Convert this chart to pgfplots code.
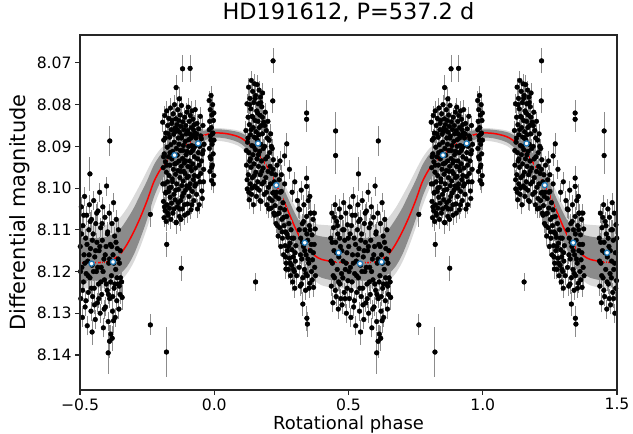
\documentclass[border=0pt]{standalone}
\usepackage{fontspec}
\setmainfont{DejaVu Sans}
\usepackage{pgfplots}
\pgfplotsset{compat=1.18}
\usepackage{pgfplotstable}
\usepgfplotslibrary{fillbetween}

\definecolor{mplblue}{RGB}{31,119,180}
\definecolor{ebgray}{gray}{0.55}

% fixed error bar (0.0024 mag), drawn as a mark under all the dots
\pgfdeclareplotmark{vbar}{%
  \pgfpathmoveto{\pgfqpoint{0pt}{-9.5bp}}%
  \pgfpathlineto{\pgfqpoint{0pt}{9.5bp}}%
  \pgfusepathqstroke}

% photometry, one rotation (phase -0.5 .. 0.5), plotted twice
\pgfplotstableread{
p m
-0.192 8.0842
-0.190 8.0951
-0.189 8.1032
-0.188 8.0885
-0.187 8.1071
-0.186 8.0918
-0.185 8.0990
-0.184 8.0826
-0.183 8.1054
-0.182 8.0937
-0.181 8.1012
-0.180 8.0868
-0.179 8.1080
-0.178 8.0962
-0.177 8.0815
-0.176 8.1040
-0.175 8.0902
-0.174 8.0985
-0.173 8.0850
-0.172 8.1065
-0.171 8.0925
-0.170 8.1008
-0.169 8.0833
-0.168 8.0970
-0.167 8.1048
-0.166 8.0878
-0.165 8.0945
-0.164 8.1022
-0.163 8.0808
-0.162 8.0896
-0.161 8.0998
-0.160 8.0860
-0.159 8.1036
-0.158 8.0930
-0.157 8.0838
-0.156 8.0978
-0.155 8.0912
-0.154 8.1060
-0.153 8.0822
-0.152 8.0955
-0.151 8.0871
-0.150 8.1015
-0.149 8.0890
-0.148 8.0800
-0.147 8.0942
-0.146 8.1028
-0.145 8.0856
-0.144 8.0967
-0.143 8.0834
-0.142 8.1082
-0.141 8.0905
-0.140 8.0990
-0.139 8.0848
-0.138 8.0921
-0.137 8.1045
-0.136 8.0812
-0.135 8.0958
-0.134 8.0880
-0.133 8.1003
-0.132 8.0838
-0.131 8.0935
-0.130 8.1068
-0.129 8.0866
-0.128 8.0975
-0.127 8.0825
-0.126 8.0910
-0.125 8.1030
-0.124 8.0852
-0.123 8.0948
-0.122 8.0802
-0.121 8.0994
-0.120 8.0875
-0.119 8.1050
-0.118 8.0929
-0.117 8.0841
-0.116 8.0983
-0.115 8.0898
-0.114 8.1012
-0.113 8.0860
-0.112 8.0940
-0.111 8.1040
-0.110 8.0830
-0.109 8.0965
-0.108 8.0888
-0.107 8.1005
-0.106 8.0850
-0.105 8.0920
-0.103 8.0995
-0.102 8.0818
-0.101 8.0912
-0.100 8.1038
-0.099 8.0862
-0.098 8.0948
-0.097 8.0806
-0.096 8.0972
-0.095 8.0884
-0.094 8.1020
-0.093 8.0840
-0.092 8.0935
-0.091 8.0870
-0.090 8.0990
-0.089 8.0826
-0.088 8.0915
-0.087 8.1052
-0.086 8.0855
-0.085 8.0958
-0.084 8.0898
-0.083 8.0815
-0.082 8.1008
-0.081 8.0875
-0.080 8.0942
-0.079 8.0835
-0.078 8.0980
-0.077 8.0905
-0.076 8.1030
-0.075 8.0848
-0.074 8.0925
-0.073 8.0868
-0.072 8.0995
-0.071 8.0812
-0.070 8.0952
-0.068 8.0880
-0.066 8.1015
-0.064 8.0845
-0.062 8.0930
-0.060 8.0972
-0.058 8.0858
-0.056 8.1040
-0.054 8.0900
-0.052 8.0828
-0.050 8.0965
-0.048 8.0882
-0.046 8.1007
-0.044 8.0918
-0.042 8.0850
-0.040 8.0985
-0.038 8.0895
-0.019 8.0790
-0.018 8.0905
-0.017 8.0840
-0.016 8.0960
-0.015 8.0812
-0.014 8.0875
-0.013 8.0930
-0.012 8.0778
-0.011 8.0855
-0.010 8.0982
-0.009 8.0825
-0.008 8.0895
-0.007 8.0945
-0.006 8.0800
-0.005 8.0868
-0.004 8.0918
-0.003 8.0838
-0.002 8.0970
-0.001 8.0885
0.118 8.0862
0.120 8.0945
0.122 8.0798
0.123 8.1002
0.124 8.0890
0.126 8.0830
0.127 8.0968
0.128 8.0758
0.129 8.0915
0.130 8.1028
0.131 8.0848
0.132 8.0935
0.133 8.0785
0.134 8.0990
0.135 8.0872
0.136 8.0810
0.137 8.0950
0.138 8.0742
0.139 8.1015
0.140 8.0898
0.141 8.0828
0.142 8.0975
0.143 8.0768
0.144 8.0920
0.145 8.0855
0.146 8.1040
0.147 8.0795
0.148 8.0942
0.149 8.0878
0.150 8.0750
0.151 8.0995
0.152 8.0838
0.153 8.0908
0.154 8.0778
0.155 8.0962
0.156 8.0865
0.157 8.1020
0.158 8.0815
0.159 8.0930
0.160 8.0752
0.161 8.0885
0.162 8.0985
0.163 8.0840
0.164 8.0798
0.165 8.0948
0.166 8.0872
0.167 8.0765
0.168 8.1005
0.169 8.0912
0.170 8.0825
0.171 8.0968
0.172 8.0782
0.173 8.0895
0.174 8.1032
0.175 8.0850
0.176 8.0935
0.177 8.0805
0.178 8.0990
0.179 8.0870
0.180 8.0772
0.182 8.0952
0.184 8.0842
0.186 8.1015
0.188 8.0900
0.190 8.0818
0.192 8.0975
0.194 8.0862
0.196 8.1040
0.198 8.0925
0.200 8.0840
0.202 8.0998
0.204 8.0885
0.206 8.1025
0.208 8.0948
0.210 8.0870
0.212 8.1048
0.214 8.0965
0.216 8.0905
0.218 8.1012
0.220 8.0932
0.222 8.1060
0.224 8.0985
0.226 8.1042
0.228 8.0968
0.230 8.1085
0.232 8.1010
0.234 8.0945
0.236 8.1062
0.238 8.1115
0.240 8.1025
0.242 8.0980
0.244 8.1095
0.246 8.1048
0.248 8.1140
0.250 8.1008
0.252 8.1075
0.254 8.1120
0.256 8.1035
0.258 8.1160
0.260 8.1090
0.262 8.1052
0.264 8.1138
0.266 8.1105
0.268 8.1180
0.270 8.1068
0.272 8.1150
0.274 8.1118
0.276 8.1195
0.278 8.1085
0.280 8.1168
0.282 8.1132
0.284 8.1210
0.286 8.1100
0.288 8.1185
0.290 8.1148
0.292 8.1225
0.294 8.1165
0.296 8.1120
0.298 8.1200
0.300 8.1240
0.302 8.1175
0.304 8.1138
0.245 8.0935
0.250 8.0968
0.262 8.0990
0.280 8.0955
0.290 8.1010
0.300 8.0985
0.310 8.1030
0.315 8.1050
0.316 8.1190
0.318 8.1052
0.320 8.1235
0.322 8.1120
0.324 8.1005
0.326 8.1170
0.328 8.1085
0.330 8.1215
0.332 8.1140
0.334 8.1040
0.336 8.1195
0.338 8.1100
0.340 8.1245
0.342 8.1160
0.344 8.1068
0.346 8.1210
0.348 8.1125
0.350 8.1030
0.352 8.1180
0.354 8.1090
0.356 8.1228
0.358 8.1150
0.360 8.1060
0.362 8.1200
0.364 8.1112
0.366 8.1172
0.368 8.1075
0.370 8.1238
0.372 8.1135
0.374 8.1190
0.376 8.1098
0.434 8.1120
0.436 8.1235
0.438 8.1060
0.440 8.1180
0.442 8.1275
0.444 8.1095
0.446 8.1150
0.448 8.1215
0.450 8.1040
0.452 8.1130
0.454 8.1260
0.456 8.1080
0.458 8.1195
0.460 8.1110
0.462 8.1290
0.464 8.1165
0.466 8.1050
0.468 8.1230
0.470 8.1140
0.472 8.1070
0.474 8.1205
0.476 8.1280
0.478 8.1100
0.480 8.1175
0.482 8.1035
0.484 8.1250
0.486 8.1125
0.488 8.1195
0.490 8.1060
0.492 8.1300
0.494 8.1155
0.496 8.1088
0.498 8.1222
-0.499 8.1140
-0.497 8.1265
-0.495 8.1045
-0.493 8.1190
-0.491 8.1310
-0.489 8.1090
-0.487 8.1225
-0.485 8.1160
-0.483 8.1020
-0.481 8.1285
-0.479 8.1120
-0.477 8.1205
-0.475 8.1065
-0.473 8.1330
-0.471 8.1175
-0.469 8.1250
-0.467 8.1100
-0.465 8.1040
-0.463 8.1215
-0.461 8.1145
-0.459 8.1295
-0.457 8.1075
-0.455 8.1185
-0.453 8.1260
-0.451 8.1110
-0.449 8.1030
-0.447 8.1240
-0.445 8.1165
-0.443 8.1315
-0.441 8.1085
-0.439 8.1200
-0.437 8.1130
-0.435 8.1275
-0.433 8.1055
-0.431 8.1230
-0.429 8.1150
-0.427 8.1010
-0.425 8.1300
-0.423 8.1095
-0.421 8.1190
-0.419 8.1255
-0.417 8.1125
-0.415 8.1045
-0.413 8.1335
-0.411 8.1170
-0.409 8.1220
-0.407 8.1070
-0.405 8.1285
-0.403 8.1140
-0.401 8.0995
-0.399 8.1245
-0.397 8.1105
-0.395 8.1320
-0.393 8.1180
-0.391 8.1060
-0.389 8.1265
-0.387 8.1135
-0.385 8.1350
-0.383 8.1210
-0.381 8.1085
-0.379 8.1295
-0.377 8.1160
-0.375 8.1035
-0.373 8.1240
-0.371 8.1115
-0.369 8.1310
-0.367 8.1195
-0.365 8.1075
-0.363 8.1270
-0.361 8.1145
-0.359 8.1230
-0.357 8.1100
-0.355 8.1290
-0.353 8.1180
-0.351 8.1255
-0.349 8.1215
-0.1915 8.0990
-0.1885 8.0925
-0.1855 8.1045
-0.1825 8.0880
-0.1795 8.1010
-0.1765 8.0945
-0.1735 8.1060
-0.1705 8.0870
-0.1675 8.1000
-0.1645 8.0915
-0.1615 8.1075
-0.1585 8.0845
-0.1555 8.0985
-0.1525 8.0920
-0.1495 8.1050
-0.1465 8.0865
-0.1435 8.1005
-0.1405 8.0940
-0.1375 8.0860
-0.1345 8.1035
-0.1315 8.0895
-0.1285 8.1050
-0.1255 8.0960
-0.1225 8.0880
-0.1195 8.1020
-0.1165 8.0910
-0.1135 8.0960
-0.1105 8.1065
-0.1075 8.0935
-0.1045 8.0870
-0.1015 8.0975
-0.0985 8.1060
-0.0955 8.0900
-0.0925 8.1000
-0.0895 8.0950
-0.0865 8.0880
-0.0835 8.1040
-0.0805 8.0910
-0.0775 8.0860
-0.0745 8.0970
-0.0715 8.0900
-0.0685 8.0990
-0.0655 8.0870
-0.0625 8.1050
-0.0595 8.0915
-0.0565 8.0945
-0.0535 8.0985
-0.0505 8.0875
-0.0475 8.0935
-0.0445 8.1025
-0.0415 8.0910
-0.0395 8.0955
-0.0185 8.0860
-0.0155 8.0925
-0.0125 8.0885
-0.0095 8.0950
-0.0065 8.0870
-0.0035 8.0990
-0.0015 8.0820
0.1195 8.0910
0.1225 8.0980
0.1255 8.0880
0.1285 8.1010
0.1315 8.0800
0.1345 8.0930
0.1375 8.0860
0.1405 8.1000
0.1435 8.0830
0.1465 8.0900
0.1495 8.0970
0.1525 8.0785
0.1555 8.0880
0.1585 8.1000
0.1615 8.0820
0.1645 8.0920
0.1675 8.0855
0.1705 8.1030
0.1735 8.0795
0.1765 8.0960
0.1795 8.0830
0.1825 8.0905
0.1855 8.0985
0.1885 8.0850
0.1915 8.0930
0.1945 8.1010
0.1975 8.0880
0.2005 8.0960
0.2035 8.1050
0.2065 8.0915
0.2095 8.0990
0.2125 8.0900
0.2155 8.1030
0.2185 8.0955
0.2215 8.1010
0.2245 8.1065
0.229 8.1020
0.235 8.1090
0.241 8.1060
0.247 8.1010
0.253 8.1105
0.259 8.1070
0.265 8.1165
0.271 8.1110
0.277 8.1140
0.283 8.1180
0.289 8.1120
0.295 8.1195
0.301 8.1155
0.307 8.1210
0.317 8.1100
0.321 8.1160
0.325 8.1230
0.329 8.1130
0.333 8.1080
0.337 8.1150
0.341 8.1205
0.345 8.1110
0.349 8.1170
0.353 8.1240
0.357 8.1100
0.361 8.1135
0.365 8.1220
0.369 8.1155
0.373 8.1060
0.377 8.1210
0.435 8.1175
0.439 8.1130
0.443 8.1210
0.447 8.1070
0.451 8.1245
0.455 8.1155
0.459 8.1090
0.463 8.1225
0.467 8.1120
0.471 8.1265
0.475 8.1150
0.479 8.1215
0.483 8.1100
0.487 8.1265
0.491 8.1180
0.495 8.1240
0.499 8.1120
-0.498 8.1200
-0.494 8.1110
-0.490 8.1245
-0.486 8.1065
-0.482 8.1180
-0.478 8.1270
-0.474 8.1135
-0.470 8.1210
-0.466 8.1160
-0.462 8.1080
-0.458 8.1240
-0.454 8.1125
-0.450 8.1200
-0.446 8.1280
-0.442 8.1150
-0.438 8.1060
-0.434 8.1190
-0.430 8.1265
-0.426 8.1140
-0.422 8.1225
-0.418 8.1085
-0.414 8.1200
-0.410 8.1290
-0.406 8.1160
-0.402 8.1230
-0.398 8.1110
-0.394 8.1255
-0.390 8.1170
-0.386 8.1225
-0.382 8.1140
-0.378 8.1260
-0.374 8.1180
-0.370 8.1230
-0.366 8.1130
-0.362 8.1215
-0.358 8.1170
-0.354 8.1235
-0.350 8.1150
}\pts

% isolated points with their own errors
\pgfplotstableread{
p m e
-0.142 8.0759 0.0030
-0.130 8.0786 0.0028
-0.118 8.0714 0.0032
-0.090 8.0713 0.0032
0.219 8.0695 0.0030
0.218 8.0791 0.0030
-0.177 8.1135 0.0030
-0.142 8.1083 0.0028
-0.124 8.1075 0.0028
-0.123 8.1192 0.0030
-0.178 8.1393 0.0060
-0.238 8.1063 0.0030
-0.238 8.1328 0.0025
0.154 8.1225 0.0022
0.267 8.1194 0.0025
0.270 8.0894 0.0025
0.262 8.0923 0.0025
0.344 8.0820 0.0030
0.344 8.0835 0.0030
0.344 8.0976 0.0030
0.344 8.0996 0.0030
0.356 8.1020 0.0030
0.358 8.1060 0.0028
0.330 8.1278 0.0028
0.345 8.1312 0.0030
0.347 8.1326 0.0030
0.452 8.0863 0.0045
0.452 8.0922 0.0045
-0.463 8.0966 0.0040
-0.389 8.0887 0.0035
-0.395 8.1395 0.0050
-0.390 8.1367 0.0040
-0.380 8.1360 0.0030
-0.455 8.1345 0.0030
-0.375 8.1318 0.0030
-0.345 8.1225 0.0030
-0.343 8.1262 0.0030
}\outl

% binned means
\pgfplotstableread{
p m
-0.457 8.1181
-0.377 8.1177
-0.148 8.0921
-0.060 8.0893
0.163 8.0893
0.231 8.0993
0.337 8.1131
0.463 8.1155
}\bins

% best model (r) and spread of sampled models (outer/inner envelopes)
\pgfplotstableread{
p r ou ol iu il
-0.500 8.1179 8.1090 8.1240 8.1120 8.1222
-0.450 8.1179 8.1090 8.1240 8.1120 8.1222
-0.400 8.1177 8.1088 8.1238 8.1117 8.1220
-0.375 8.1170 8.1082 8.1232 8.1110 8.1215
-0.350 8.1158 8.1070 8.1222 8.1098 8.1205
-0.325 8.1135 8.1048 8.1205 8.1075 8.1188
-0.300 8.1105 8.1020 8.1178 8.1048 8.1160
-0.275 8.1070 8.0990 8.1140 8.1015 8.1120
-0.250 8.1030 8.0958 8.1095 8.0982 8.1075
-0.225 8.0985 8.0928 8.1045 8.0945 8.1022
-0.200 8.0955 8.0906 8.1004 8.0920 8.0985
-0.175 8.0935 8.0892 8.0974 8.0905 8.0960
-0.150 8.0920 8.0882 8.0952 8.0893 8.0940
-0.100 8.0894 8.0868 8.0917 8.0876 8.0908
-0.050 8.0876 8.0860 8.0896 8.0864 8.0889
0.000 8.0868 8.0856 8.0887 8.0859 8.0879
0.050 8.0870 8.0858 8.0890 8.0861 8.0882
0.100 8.0880 8.0864 8.0903 8.0868 8.0894
0.150 8.0907 8.0882 8.0940 8.0889 8.0926
0.200 8.0952 8.0918 8.0993 8.0930 8.0978
0.250 8.1018 8.0975 8.1068 8.0990 8.1050
0.275 8.1055 8.1010 8.1104 8.1025 8.1088
0.300 8.1093 8.1043 8.1143 8.1060 8.1128
0.325 8.1125 8.1068 8.1178 8.1088 8.1162
0.350 8.1146 8.1080 8.1203 8.1104 8.1188
0.375 8.1162 8.1086 8.1222 8.1112 8.1205
0.400 8.1171 8.1088 8.1233 8.1116 8.1215
0.450 8.1177 8.1090 8.1240 8.1120 8.1222
0.500 8.1179 8.1090 8.1240 8.1120 8.1222
0.550 8.1179 8.1090 8.1240 8.1120 8.1222
0.600 8.1177 8.1088 8.1238 8.1117 8.1220
0.625 8.1170 8.1082 8.1232 8.1110 8.1215
0.650 8.1158 8.1070 8.1222 8.1098 8.1205
0.675 8.1135 8.1048 8.1205 8.1075 8.1188
0.700 8.1105 8.1020 8.1178 8.1048 8.1160
0.725 8.1070 8.0990 8.1140 8.1015 8.1120
0.750 8.1030 8.0958 8.1095 8.0982 8.1075
0.775 8.0985 8.0928 8.1045 8.0945 8.1022
0.800 8.0955 8.0906 8.1004 8.0920 8.0985
0.825 8.0935 8.0892 8.0974 8.0905 8.0960
0.850 8.0920 8.0882 8.0952 8.0893 8.0940
0.900 8.0894 8.0868 8.0917 8.0876 8.0908
0.950 8.0876 8.0860 8.0896 8.0864 8.0889
1.000 8.0868 8.0856 8.0887 8.0859 8.0879
1.050 8.0870 8.0858 8.0890 8.0861 8.0882
1.100 8.0880 8.0864 8.0903 8.0868 8.0894
1.150 8.0907 8.0882 8.0940 8.0889 8.0926
1.200 8.0952 8.0918 8.0993 8.0930 8.0978
1.250 8.1018 8.0975 8.1068 8.0990 8.1050
1.275 8.1055 8.1010 8.1104 8.1025 8.1088
1.300 8.1093 8.1043 8.1143 8.1060 8.1128
1.325 8.1125 8.1068 8.1178 8.1088 8.1162
1.350 8.1146 8.1080 8.1203 8.1104 8.1188
1.375 8.1162 8.1086 8.1222 8.1112 8.1205
1.400 8.1171 8.1088 8.1233 8.1116 8.1215
1.450 8.1177 8.1090 8.1240 8.1120 8.1222
1.500 8.1179 8.1090 8.1240 8.1120 8.1222
}\band

\begin{document}
\begin{tikzpicture}
\begin{axis}[
    scale only axis,
    width=537bp, height=355bp,
    xmin=-0.5, xmax=1.5,
    ymin=8.0633, ymax=8.1484,
    y dir=reverse,
    xtick={-0.5,0,0.5,1,1.5},
    xticklabels={−0.5,0.0,0.5,1.0,1.5},
    ytick={8.07,8.08,8.09,8.10,8.11,8.12,8.13,8.14},
    yticklabels={8.07,8.08,8.09,8.10,8.11,8.12,8.13,8.14},
    tick pos=left,
    tick align=outside,
    major tick length=4.9bp,
    tick style={black!85, line width=1.1bp},
    axis line style={black!85, line width=1.1bp},
    ticklabel style={font=\fontsize{15.7}{18}\selectfont},
    xlabel style={font=\fontsize{18}{21}\selectfont, yshift=1.5bp},
    ylabel style={font=\fontsize{21}{24}\selectfont},
    title style={font=\fontsize{22.5}{26}\selectfont, at={(0.5,1)}, anchor=base, yshift=10bp},
    title={HD191612, P=537.2 d},
    xlabel={Rotational phase},
    ylabel={Differential magnitude},
    axis on top,
]
% error bars first, for every point
\addplot[only marks, mark=vbar, mark options={draw=ebgray, line width=1bp}]
    table[x=p, y=m] {\pts};
\addplot[only marks, mark=vbar, mark options={draw=ebgray, line width=1bp}]
    table[x expr=\thisrow{p}+1, y=m] {\pts};
\addplot[only marks, mark=none,
    error bars/.cd, y dir=both, y explicit, error mark=none,
    error bar style={ebgray, line width=1bp}]
    table[x=p, y=m, y error=e] {\outl};
\addplot[only marks, mark=none,
    error bars/.cd, y dir=both, y explicit, error mark=none,
    error bar style={ebgray, line width=1bp}]
    table[x expr=\thisrow{p}+1, y=m, y error=e] {\outl};
% then the dots, two rotations
\addplot[only marks, mark=*, mark size=2.4pt, black] table[x=p, y=m] {\pts};
\addplot[only marks, mark=*, mark size=2.4pt, black] table[x expr=\thisrow{p}+1, y=m] {\pts};
\addplot[only marks, mark=*, mark size=2.4pt, black] table[x=p, y=m] {\outl};
\addplot[only marks, mark=*, mark size=2.4pt, black] table[x expr=\thisrow{p}+1, y=m] {\outl};

% model spread
\addplot[draw=none, name path=ou, smooth] table[x=p, y=ou] {\band};
\addplot[draw=none, name path=ol, smooth] table[x=p, y=ol] {\band};
\addplot[black!50, fill opacity=0.3] fill between[of=ou and ol];
\addplot[draw=none, name path=iu, smooth] table[x=p, y=iu] {\band};
\addplot[draw=none, name path=il, smooth] table[x=p, y=il] {\band};
\addplot[black!70, fill opacity=0.55] fill between[of=iu and il];

% best model
\addplot[red, line width=1.5bp, smooth] table[x=p, y=r] {\band};

% binned points
\addplot[only marks, mark=*, mark size=2.6pt,
    mark options={fill=white, draw=mplblue, line width=1.3bp}]
    table[x=p, y=m] {\bins};
\addplot[only marks, mark=*, mark size=2.6pt,
    mark options={fill=white, draw=mplblue, line width=1.3bp}]
    table[x expr=\thisrow{p}+1, y=m] {\bins};
\end{axis}
\pgfresetboundingbox
\path (current axis.south west) ++(-80bp,-44bp) rectangle ++(633bp,434bp);
\end{tikzpicture}
\end{document}
